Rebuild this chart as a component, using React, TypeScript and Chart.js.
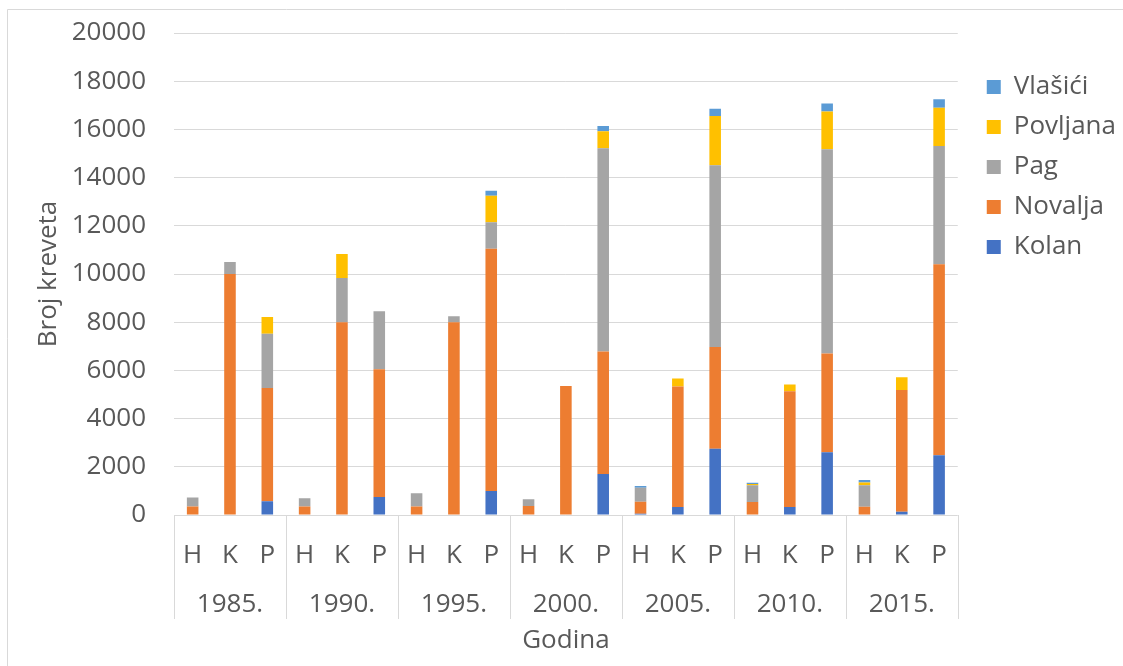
import React, { useEffect, useRef } from "react";
import { Chart, registerables } from "chart.js";

Chart.register(...registerables);

const years = ["1985.", "1990.", "1995.", "2000.", "2005.", "2010.", "2015."];
const subLabels = ["H", "K", "P"];
const categories = years.flatMap(() => subLabels);

const kolan = [0, 0, 570, 0, 0, 750, 0, 0, 1000, 0, 0, 1700, 50, 330, 2750, 0, 330, 2600, 0, 140, 2480];
const novalja = [350, 10000, 4700, 350, 8000, 5300, 350, 8000, 10050, 370, 5350, 5080, 500, 5000, 4220, 540, 4800, 4100, 345, 5050, 7920];
const pag = [380, 500, 2250, 350, 1830, 2400, 550, 250, 1100, 280, 0, 8440, 580, 0, 7540, 690, 0, 8480, 890, 0, 4910];
const povljana = [0, 0, 700, 0, 1000, 0, 0, 0, 1100, 0, 0, 700, 0, 330, 2050, 55, 290, 1560, 110, 530, 1590];
const vlasici = [0, 0, 0, 0, 0, 0, 0, 0, 200, 0, 0, 220, 70, 0, 300, 55, 0, 330, 110, 0, 350];

const yTicksMax = 20000;
const yStep = 2000;

const FONT = "'Open Sans', 'DejaVu Sans', sans-serif";
const FS = 26;
const TEXT = "#595959";
const GRID = "#d9d9d9";

export default function App() {
  const ref = useRef<HTMLCanvasElement | null>(null);

  useEffect(() => {
    if (!ref.current) return;

    const framePlugin = {
      id: "frame",
      beforeDraw(chart: any) {
        const ctx = chart.ctx;
        ctx.save();
        ctx.fillStyle = "#ffffff";
        ctx.fillRect(0, 0, chart.width, chart.height);
        ctx.strokeStyle = GRID;
        ctx.lineWidth = 1;
        ctx.beginPath();
        ctx.moveTo(7.5, chart.height + 5);
        ctx.lineTo(7.5, 9.5);
        ctx.lineTo(chart.width + 5, 9.5);
        ctx.stroke();
        ctx.restore();
      },
    };

    const legendShift = {
      id: "legendShift",
      afterLayout(chart: any) {
        const lg = chart.legend;
        if (!lg) return;
        const dx = 15;
        const dy = 27;
        lg.left += dx;
        lg.right += dx;
        lg.top += dy;
        lg.bottom += dy;
        if (lg.legendHitBoxes) {
          lg.legendHitBoxes.forEach((h: any) => {
            h.left += dx;
            h.top += dy;
          });
        }
      },
    };

    const groupPlugin = {
      id: "groups",
      afterDraw(chart: any) {
        const ctx = chart.ctx;
        const x = chart.scales.x;
        const area = chart.chartArea;
        const n = subLabels.length;
        const w = (area.right - area.left) / categories.length;
        ctx.save();
        ctx.strokeStyle = GRID;
        ctx.lineWidth = 1;
        for (let g = 0; g <= years.length; g++) {
          const px = Math.round(area.left + g * n * w) + 0.5;
          ctx.beginPath();
          ctx.moveTo(px, area.bottom);
          ctx.lineTo(px, area.bottom + 104);
          ctx.stroke();
        }
        ctx.fillStyle = TEXT;
        ctx.font = `${FS}px ${FONT}`;
        ctx.textAlign = "center";
        ctx.textBaseline = "middle";
        years.forEach((yr, g) => {
          const cx = (x.getPixelForValue(g * n) + x.getPixelForValue(g * n + n - 1)) / 2;
          ctx.fillText(yr, cx, area.bottom + 90);
        });
        ctx.restore();
      },
    };

    const mk = (label: string, data: number[], color: string) => ({
      label,
      data,
      backgroundColor: color,
      borderWidth: 0,
      categoryPercentage: 1,
      barPercentage: 0.31,
    });

    const chart = new Chart(ref.current, {
      type: "bar",
      data: {
        labels: categories,
        datasets: [
          mk("Kolan", kolan, "#4472C4"),
          mk("Novalja", novalja, "#ED7D31"),
          mk("Pag", pag, "#A5A5A5"),
          mk("Povljana", povljana, "#FFC000"),
          mk("Vlašići", vlasici, "#5B9BD5"),
        ],
      },
      options: {
        responsive: false,
        animation: false,
        layout: { padding: { top: 33, right: 12, bottom: 0, left: 0 } },
        plugins: {
          tooltip: { enabled: false },
          legend: {
            position: "right",
            align: "start",
            reverse: true,
            labels: {
              boxWidth: 14,
              boxHeight: 14,
              padding: 14,
              color: TEXT,
              font: { family: FONT, size: FS },
            },
          },
        },
        scales: {
          x: {
            stacked: true,
            grid: { display: false, drawTicks: false },
            border: { display: false },
            ticks: {
              autoSkip: false,
              maxRotation: 0,
              padding: 25,
              color: TEXT,
              font: { family: FONT, size: FS },
            },
            title: {
              display: true,
              text: "Godina",
              color: TEXT,
              font: { family: FONT, size: FS },
              padding: { top: 0, bottom: 10 },
            },
            afterFit(scale: any) {
              scale.height = 151;
            },
          },
          y: {
            stacked: true,
            min: 0,
            max: yTicksMax,
            grid: {
              color: GRID,
              lineWidth: 1,
              drawTicks: true,
              tickLength: 28,
              tickColor: "rgba(0,0,0,0)",
            },
            border: { display: false },
            ticks: {
              stepSize: yStep,
              padding: 0,
              color: TEXT,
              font: { family: FONT, size: FS },
              callback: (v: any) => String(v),
            },
            title: {
              display: true,
              text: "Broj kreveta",
              color: TEXT,
              font: { family: FONT, size: FS },
              padding: { top: 33, bottom: 0 },
            },
            afterFit(scale: any) {
              scale.width = 174;
            },
          },
        },
      },
      plugins: [framePlugin, legendShift, groupPlugin],
    });

    return () => chart.destroy();
  }, []);

  return (
    <div style={{ position: "absolute", left: 0, top: 0, width: 1123, height: 666 }}>
      <canvas ref={ref} width={1123} height={666} style={{ display: "block" }} />
    </div>
  );
}
